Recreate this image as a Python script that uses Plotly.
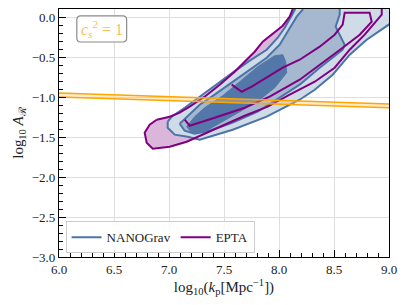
import plotly.graph_objects as go

# ---- data (data units) ----
nano_2s_x = [6.988, 7.025, 7.143, 7.279, 7.415, 7.579, 7.734, 7.888, 7.988, 8.052, 8.115, 8.161,
             9.05, 9.05, 8.997, 8.797, 8.643, 8.488, 8.325, 8.188, 7.888, 7.579, 7.279, 7.170,
             7.052, 6.988, 6.988]
nano_2s_y = [-1.309, -1.246, -1.134, -0.996, -0.859, -0.696, -0.546, -0.409, -0.259, -0.134, 0.016, 0.14,
             0.14, -0.05, -0.096, -0.284, -0.471, -0.721, -0.909, -1.034, -1.246, -1.409, -1.534, -1.496,
             -1.471, -1.384, -1.309]

nano_1s_x = [7.097, 7.188, 7.279, 7.415, 7.579, 7.734, 7.888, 8.006, 8.097, 8.161, 8.215, 8.215,
             8.552, 8.552, 8.515, 8.570, 8.597, 8.579, 8.370, 8.188, 8.006, 7.806, 7.579, 7.370,
             7.233, 7.142, 7.097]
nano_1s_y = [-1.334, -1.209, -1.096, -0.971, -0.809, -0.659, -0.509, -0.346, -0.134, 0.004, 0.091, 0.15,
             0.15, 0.029, -0.121, -0.259, -0.346, -0.409, -0.634, -0.846, -1.009, -1.184, -1.321, -1.421,
             -1.459, -1.421, -1.334]

nano_core_x = [7.161, 7.233, 7.324, 7.488, 7.643, 7.806, 7.961, 8.034, 8.061, 8.070, 7.961, 7.824,
               7.643, 7.461, 7.324, 7.206, 7.161]
nano_core_y = [-1.371, -1.246, -1.134, -0.984, -0.809, -0.621, -0.484, -0.471, -0.559, -0.696, -0.884, -1.034,
               -1.184, -1.321, -1.434, -1.446, -1.371]

epta_2s_x = [6.888, 7.006, 7.097, 7.188, 7.324, 7.461, 7.597, 7.688, 7.779, 7.852, 7.934, 8.034,
             8.097, 8.133, 8.143, 8.934, 8.934, 8.779, 8.643, 8.506, 8.325, 8.097, 7.897, 7.688,
             7.524, 7.342, 7.161, 7.006, 6.852, 6.797, 6.779, 6.824, 6.888]
epta_2s_y = [-1.284, -1.246, -1.196, -1.121, -0.996, -0.846, -0.684, -0.559, -0.434, -0.309, -0.221, -0.109,
             0.004, 0.116, 0.16, 0.16, 0.029, -0.221, -0.409, -0.634, -0.809, -0.971, -1.121, -1.234,
             -1.334, -1.446, -1.559, -1.621, -1.646, -1.571, -1.446, -1.346, -1.284]

epta_1s_x = [7.570, 7.661, 7.752, 8.034, 8.188, 8.370, 8.506, 8.579, 8.597, 8.824, 8.843, 8.734,
             8.579, 8.370, 8.188, 7.915, 7.688, 7.415, 7.188, 7.143]
epta_1s_y = [-0.846, -0.934, -0.871, -0.634, -0.534, -0.371, -0.221, -0.096, 0.054, 0.054, -0.059, -0.221,
             -0.384, -0.596, -0.784, -0.996, -1.134, -1.259, -1.359, -1.284]

cs_x = [6.0, 9.0]
cs_upper = [-0.95, -1.087]
cs_lower = [-1.0, -1.135]

x_ticks = [6.0, 6.5, 7.0, 7.5, 8.0, 8.5, 9.0]
y_ticks = [-3.0, -2.5, -2.0, -1.5, -1.0, -0.5, 0.0]

# ---- styles ----
BLUE = "#4a74a8"
PURPLE = "#800080"
FONT = "Liberation Serif"

fig = go.Figure()

fig.add_trace(go.Scatter(x=epta_2s_x, y=epta_2s_y, mode="lines", fill="toself",
                         fillcolor="#dbb6db", line=dict(width=0), showlegend=False, hoverinfo="skip"))
fig.add_trace(go.Scatter(x=nano_2s_x, y=nano_2s_y, mode="lines", fill="toself",
                         fillcolor="#d0dbe8", line=dict(color=BLUE, width=2), showlegend=False, hoverinfo="skip"))
fig.add_trace(go.Scatter(x=nano_1s_x, y=nano_1s_y, mode="lines", fill="toself",
                         fillcolor="#a5b8d0", line=dict(color=BLUE, width=2), showlegend=False, hoverinfo="skip"))
fig.add_trace(go.Scatter(x=nano_core_x, y=nano_core_y, mode="lines", fill="toself",
                         fillcolor="#5277a8", line=dict(color="#5277a8", width=1), showlegend=False, hoverinfo="skip"))
fig.add_trace(go.Scatter(x=epta_2s_x, y=epta_2s_y, mode="lines",
                         line=dict(color=PURPLE, width=2), showlegend=False, hoverinfo="skip"))
fig.add_trace(go.Scatter(x=epta_1s_x, y=epta_1s_y, mode="lines",
                         line=dict(color=PURPLE, width=2), showlegend=False, hoverinfo="skip"))
fig.add_trace(go.Scatter(x=cs_x, y=cs_upper, mode="lines",
                         line=dict(color="#ffa500", width=1.6), showlegend=False, hoverinfo="skip"))
fig.add_trace(go.Scatter(x=cs_x, y=cs_lower, mode="lines", fill="tonexty",
                         fillcolor="rgba(255,200,120,0.35)",
                         line=dict(color="#ffa500", width=1.6), showlegend=False, hoverinfo="skip"))

fig.add_trace(go.Scatter(x=[None], y=[None], mode="lines", name="NANOGrav",
                         line=dict(color=BLUE, width=2)))
fig.add_trace(go.Scatter(x=[None], y=[None], mode="lines", name="EPTA",
                         line=dict(color=PURPLE, width=2)))

x0, x1, y0, y1 = 0.054, 0.205, 0.867, 0.972
rx, ry = 0.012, 0.016
path = (f"M {x0+rx},{y0} L {x1-rx},{y0} Q {x1},{y0} {x1},{y0+ry} L {x1},{y1-ry} "
        f"Q {x1},{y1} {x1-rx},{y1} L {x0+rx},{y1} Q {x0},{y1} {x0},{y1-ry} "
        f"L {x0},{y0+ry} Q {x0},{y0} {x0+rx},{y0} Z")
fig.add_shape(type="path", path=path, xref="paper", yref="paper",
              line=dict(color="#8a8a8a", width=1.2), fillcolor="rgba(255,255,255,0.85)", layer="above")
fig.add_annotation(x=0.129, y=0.919, xref="paper", yref="paper", showarrow=False,
                   xanchor="center", yanchor="middle",
                   text="<i>c</i><sub><i>s</i></sub><sup>2</sup> = 1",
                   font=dict(family=FONT, size=16, color="#fbbf55"))

axis_common = dict(
    showline=True, linecolor="black", linewidth=1.2, mirror=True,
    ticks="inside", ticklen=7, tickwidth=1.2, tickcolor="black",
    showgrid=True, gridcolor="#dedede", gridwidth=1,
    zeroline=False, layer="above traces", automargin=False,
    tickfont=dict(family=FONT, size=13, color="#222"),
    tickformat=".1f",
    minor=dict(ticks="inside", ticklen=4, tickwidth=1, tickcolor="black", dtick=0.1, showgrid=False),
)

fig.update_xaxes(range=[6.0, 9.0], tickvals=x_ticks,
                 title=dict(text="log<sub>10</sub>(<i>k</i><sub>p</sub>[Mpc<sup>−1</sup>])",
                            font=dict(family=FONT, size=15, color="#222"), standoff=6),
                 **axis_common)
fig.update_yaxes(range=[-3.0, 0.1], tickvals=y_ticks,
                 title=dict(text="log<sub>10</sub> <i>A</i><sub>ℛ</sub>",
                            font=dict(family=FONT, size=15, color="#222"), standoff=4),
                 **axis_common)

# page body has an 8px margin: size the figure so the plot area lands where the reference has it
fig.update_layout(
    width=391, height=289,
    margin=dict(l=51, r=10, t=1, b=40, autoexpand=False),
    paper_bgcolor="white", plot_bgcolor="white",
    legend=dict(x=0.02, y=0.015, xanchor="left", yanchor="bottom", orientation="h",
                traceorder="normal",
                bgcolor="rgba(255,255,255,0.85)", bordercolor="#cccccc", borderwidth=1,
                font=dict(family=FONT, size=13, color="#222"), itemwidth=30),
    showlegend=True,
)

fig.write_html("out.html")
